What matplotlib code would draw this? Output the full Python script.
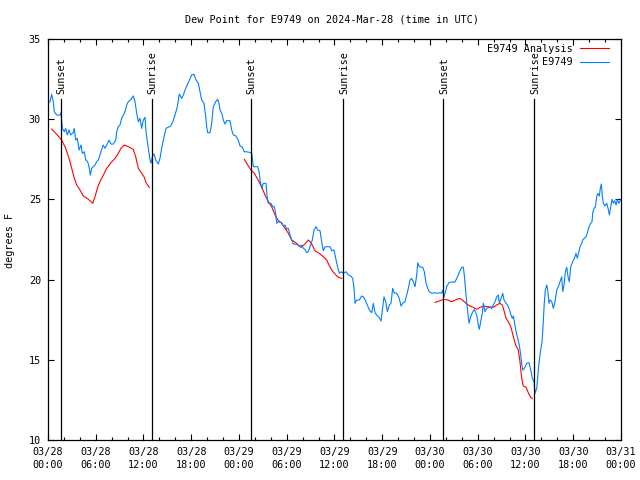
import matplotlib
matplotlib.use("Agg")
import matplotlib.pyplot as plt
import numpy as np

# hours since 2024-03-28 00:00 UTC
obs_hours = [0.0, 0.25, 0.46, 0.67, 0.79, 1.09, 1.51, 1.63, 1.80, 2.05, 2.22, 2.43, 2.64, 2.85,
             3.18, 3.30, 3.48, 3.68, 3.90, 4.15, 4.31, 4.56, 4.74, 4.99, 5.19, 5.32, 5.49, 5.69,
             5.91, 6.12, 6.32, 6.53, 6.75, 6.95, 7.16, 7.38, 7.67, 7.92, 8.21, 8.51, 8.63, 8.83,
             9.05, 9.26, 9.46, 9.68, 9.89, 10.09, 10.43, 10.72, 10.93, 11.15, 11.35, 11.56, 11.77,
             11.98, 12.19, 12.32, 12.60, 12.82, 12.94, 13.16, 13.32, 13.53, 13.86, 14.07, 14.29,
             14.49, 14.83, 15.12, 15.42, 15.67, 15.96, 16.25, 16.50, 16.80, 17.00, 17.22, 17.43,
             17.76, 18.06, 18.35, 18.60, 18.89, 19.10, 19.31, 19.60, 19.82, 19.94, 20.07, 20.36,
             20.57, 20.77, 21.07, 21.32, 21.49, 21.61, 21.83, 22.03, 22.24, 22.46, 22.87, 23.08,
             23.29, 23.62, 23.91, 24.13, 24.42, 24.67, 24.97, 25.60, 25.80, 26.35, 26.55, 26.64,
             26.85, 27.06, 27.39, 27.56, 27.68, 28.02, 28.24, 28.44, 28.61, 28.74, 28.94, 29.37,
             29.57, 29.78, 30.00, 30.20, 30.41, 30.62, 30.83, 31.25, 31.67, 31.88, 32.08, 32.29,
             32.51, 32.71, 32.92, 33.21, 33.43, 33.68, 33.89, 34.18, 34.39, 34.59, 34.81, 35.15,
             35.44, 35.65, 35.94, 36.28, 36.61, 36.82, 37.11, 37.45, 37.74, 38.04, 38.29, 38.45,
             38.58, 38.79, 39.12, 39.42, 39.62, 39.84, 40.12, 40.37, 40.68, 40.88, 41.09, 41.30,
             41.59, 41.85, 42.06, 42.22, 42.44, 42.64, 42.89, 43.10, 43.31, 43.52, 43.73, 43.94,
             44.14, 44.36, 44.57, 44.86, 45.07, 45.28, 45.49, 45.70, 45.90, 46.12, 46.33, 46.46,
             46.66, 47.09, 47.29, 47.50, 47.71, 47.91, 48.22, 48.51, 48.92, 49.26, 49.47, 49.60,
             49.76, 49.98, 50.10, 50.39, 50.73, 51.14, 51.36, 51.56, 51.77, 51.99, 52.19, 52.31,
             52.49, 52.69, 52.90, 53.12, 53.32, 53.57, 53.87, 54.07, 54.20, 54.37, 54.58, 54.70,
             54.91, 55.13, 55.42, 55.76, 55.96, 56.17, 56.38, 56.59, 56.71, 56.93, 57.14, 57.30,
             57.52, 57.72, 57.93, 58.18, 58.35, 58.47, 58.60, 58.77, 59.02, 59.22, 59.40, 59.52,
             59.65, 59.85, 60.15, 60.44, 60.66, 60.86, 61.07, 61.20, 61.41, 61.49, 61.61, 61.74,
             61.91, 62.08, 62.16, 62.24, 62.36, 62.49, 62.67, 62.79, 62.96, 63.08, 63.30, 63.50,
             63.71, 63.93, 64.13, 64.34, 64.55, 64.68, 64.84, 65.01, 65.18, 65.38, 65.51, 65.68,
             65.93, 66.14, 66.35, 66.51, 66.69, 66.85, 67.06, 67.19, 67.39, 67.61, 67.82, 67.98,
             68.20, 68.36, 68.45, 68.61, 68.77, 68.95, 69.08, 69.28, 69.40, 69.53, 69.66, 69.78,
             69.99, 70.21, 70.37, 70.54, 70.71, 70.87, 71.04, 71.22, 71.38, 71.54, 71.72, 72.0]
obs_dewpt = [31.03, 31.09, 31.55, 31.09, 30.47, 30.26, 30.26, 30.41, 29.43, 29.22, 29.43, 29.02, 29.33, 29.02,
             29.16, 29.43, 28.70, 28.81, 28.08, 28.39, 27.87, 27.97, 27.46, 27.35, 26.94, 26.52, 26.94, 27.04,
             27.14, 27.35, 27.46, 27.77, 28.12, 28.39, 28.19, 28.39, 28.70, 28.45, 28.45, 28.70, 29.22, 29.53,
             29.64, 30.06, 30.26, 30.47, 30.89, 31.09, 31.24, 31.45, 31.09, 30.37, 29.84, 30.06, 29.43,
             29.95, 30.12, 29.22, 28.19, 27.46, 27.25, 27.77, 27.83, 27.46, 27.21, 27.56, 28.19,
             28.70, 29.43, 29.50, 29.58, 29.84, 30.26, 30.78, 31.57, 31.30, 31.51, 31.82, 32.07,
             32.44, 32.76, 32.80, 32.44, 32.24, 31.71, 31.20, 30.99, 30.16, 29.53, 29.16, 29.16,
             29.74, 30.78, 31.09, 31.24, 30.99, 30.57, 30.37, 29.95, 29.70, 29.91, 29.91, 29.33,
             29.02, 28.95, 28.70, 28.33, 28.25, 27.97, 27.97, 27.91, 27.04, 27.04, 26.66, 26.21,
             25.69, 26.00, 26.00, 25.07, 24.76, 24.76, 24.54, 24.54, 24.13, 23.51, 23.61, 23.55,
             23.34, 23.40, 23.14, 23.20, 22.78, 22.47, 22.22, 22.20, 22.05, 22.16, 21.95, 21.89,
             21.68, 21.74, 22.05, 22.47, 23.09, 23.30, 23.09, 23.05, 22.36, 21.80, 22.05, 22.05,
             22.05, 21.80, 21.85, 21.02, 20.39, 20.49, 20.39, 20.49, 20.29, 20.22, 20.08, 19.46,
             18.52, 18.73, 18.73, 18.98, 18.93, 18.73, 18.42, 18.11, 17.94, 18.52, 17.94, 17.79,
             17.65, 17.42, 18.31, 18.93, 18.62, 18.00, 18.42, 18.52, 19.46, 19.15, 19.18, 19.04,
             18.83, 18.35, 18.52, 18.62, 19.04, 19.46, 19.98, 20.08, 19.87, 19.56, 20.29, 21.05,
             20.80, 20.77, 20.49, 19.77, 19.46, 19.25, 19.15, 19.18, 19.15, 19.18, 19.15, 19.35,
             18.93, 19.31, 19.56, 19.81, 19.85, 19.85, 20.08, 20.29, 20.55, 20.77, 20.77, 20.29,
             19.25, 18.21, 17.28, 17.69, 17.94, 18.15, 17.79, 17.17, 16.90, 17.38, 17.90, 18.52,
             18.00, 18.21, 18.27, 18.21, 18.42, 18.62, 18.93, 19.04, 18.52, 18.83, 19.15, 18.73,
             18.56, 18.42, 18.21, 17.79, 17.59, 17.73, 17.38, 16.86, 16.34, 15.92, 15.30, 14.78,
             14.36, 14.47, 14.78, 14.82, 14.36, 13.85, 13.64, 12.91, 13.22, 13.64, 14.36, 14.99,
             15.61, 16.13, 16.75, 17.48, 18.52, 19.35, 19.66, 19.35, 18.52, 18.73, 18.62, 18.21,
             18.62, 19.35, 19.56, 19.87, 20.18, 19.25, 19.66, 20.49, 20.77, 20.08, 19.87, 20.80,
             21.12, 21.33, 21.64, 21.33, 21.68, 22.05, 22.26, 22.47, 22.58, 22.67, 22.99, 23.30,
             23.51, 23.61, 24.17, 24.45, 24.51, 25.17, 25.38, 25.21, 25.69, 25.96, 25.17, 24.76,
             24.59, 24.76, 24.45, 24.03, 24.55, 25.01, 24.76, 24.92, 24.65, 25.01, 24.76, 25.01]

# analysis series (NaN = no analysis)
ana_hours = [0.46, 1.29, 1.72, 2.22, 2.64, 2.98, 3.30, 3.61, 4.02, 4.44, 5.06, 5.62, 5.91, 6.25,
             6.53, 6.95, 7.38, 7.92, 8.42, 8.83, 9.17, 9.59, 10.09, 10.72, 11.02, 11.35, 11.77,
             12.10, 12.32, 12.73, 18.0,
             24.67, 25.10, 25.51, 25.93, 26.35, 26.85, 27.27, 27.68, 28.11, 28.53, 28.87, 29.37,
             29.78, 30.20, 30.62, 31.25, 31.79, 32.29, 32.71, 33.05, 33.55, 34.18, 34.59, 35.02,
             35.31, 35.65, 35.98, 36.48, 36.91, 42.0,
             48.63, 49.26, 49.67, 50.23, 50.73, 51.36, 51.77, 52.19, 52.61, 53.03, 53.45, 53.87,
             54.29, 54.70, 55.33, 55.96, 56.38, 56.80, 57.09, 57.34, 57.55, 57.84, 58.18, 58.47,
             58.77, 59.10, 59.31, 59.52, 59.72, 60.06, 60.35, 60.66, 60.86]
ana_dewpt = [29.39, 28.95, 28.70, 28.19, 27.56, 26.94, 26.32, 25.90, 25.59, 25.21, 25.01, 24.76, 25.17, 25.79,
             26.10, 26.52, 26.94, 27.29, 27.56, 27.87, 28.19, 28.39, 28.29, 28.12, 27.66, 26.94, 26.63,
             26.38, 26.04, 25.75, np.nan,
             27.50, 27.14, 26.83, 26.63, 26.25, 25.79, 25.27, 24.86, 24.54, 24.03, 23.72, 23.51,
             23.20, 22.89, 22.47, 22.26, 22.01, 22.22, 22.47, 22.30, 21.80, 21.60, 21.43, 21.22,
             20.91, 20.60, 20.39, 20.14, 20.08, np.nan,
             18.58, 18.68, 18.77, 18.73, 18.62, 18.77, 18.83, 18.68, 18.48, 18.35, 18.27, 18.15,
             18.27, 18.35, 18.31, 18.27, 18.42, 18.52, 18.42, 18.00, 17.59, 17.38, 17.03, 16.44,
             15.92, 15.61, 14.88, 13.85, 13.37, 13.29, 12.95, 12.66, 12.58]

sun_hours = [1.63, 13.07, 25.51, 37.13, 49.65, 61.1]
sun_labels = ["Sunset", "Sunrise", "Sunset", "Sunrise", "Sunset", "Sunrise"]

tick_hours = list(range(0, 73, 6))
tick_labels = ["03/28\n00:00", "03/28\n06:00", "03/28\n12:00", "03/28\n18:00",
               "03/29\n00:00", "03/29\n06:00", "03/29\n12:00", "03/29\n18:00",
               "03/30\n00:00", "03/30\n06:00", "03/30\n12:00", "03/30\n18:00",
               "03/31\n00:00"]

plt.rcParams['font.family'] = ['DejaVu Sans Mono']
plt.rcParams['font.size'] = 7.3

fig = plt.figure(figsize=(6.4, 4.8), dpi=100)
ax = fig.add_axes([0.075, 0.0833, 0.8953, 0.8354])

ax.plot(ana_hours, ana_dewpt, color='#ff0000', lw=0.8, label='E9749 Analysis')
ax.plot(obs_hours, obs_dewpt, color='#0080ff', lw=0.8, label='E9749')

for h, lab in zip(sun_hours, sun_labels):
    ax.plot([h, h], [10, 31.26], color='black', lw=0.9)
    ax.text(h + 0.1, 31.6, lab, rotation=90, ha='center', va='bottom', fontsize=7.3)

ax.set_xlim(0, 72)
ax.set_ylim(10, 35)
ax.set_xticks(tick_hours)
ax.set_xticklabels(tick_labels, linespacing=1.35)
ax.set_xticks(range(0, 73, 2), minor=True)
ax.set_yticks([10, 15, 20, 25, 30, 35])
ax.tick_params(which='both', direction='in', top=True, right=True, width=0.8)
ax.tick_params(which='major', length=4.5)
ax.tick_params(which='minor', length=2.5)
ax.tick_params(axis='x', pad=5)
ax.tick_params(axis='y', pad=5)
for s in ax.spines.values():
    s.set_linewidth(0.9)

fig.text(0.519, 0.96, "Dew Point for E9749 on 2024-Mar-28 (time in UTC)",
         ha='center', va='center', fontsize=7.3)
fig.text(0.016, 0.5, "degrees F", rotation=90, ha='center', va='center', fontsize=7.3)

ax.legend(loc='upper right', bbox_to_anchor=(0.997, 1.013), frameon=False, markerfirst=False,
          handlelength=2.9, handletextpad=0.7, borderaxespad=0.6, labelspacing=0.35, fontsize=7.3)

fig.savefig("out.png", dpi=100)
